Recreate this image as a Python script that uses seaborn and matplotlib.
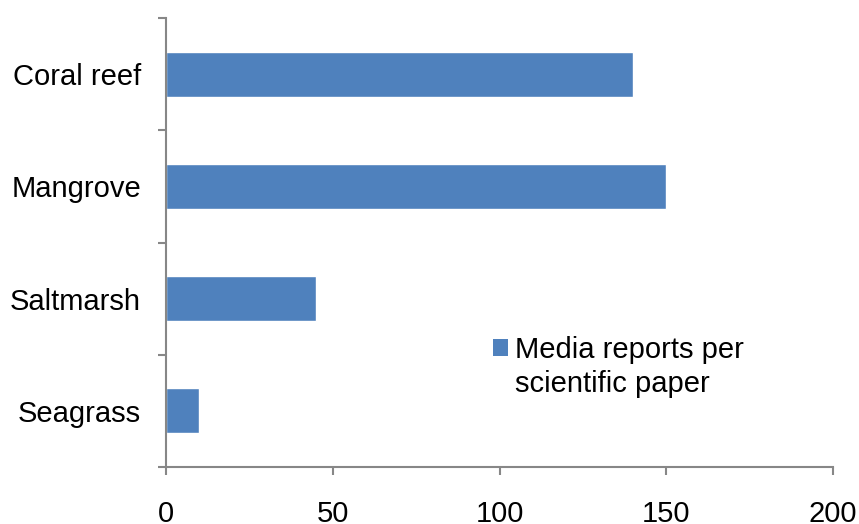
import numpy as np
import pandas as pd
import matplotlib
matplotlib.use('Agg')
import matplotlib.pyplot as plt
import seaborn as sns
from matplotlib.patches import Patch, Rectangle
from matplotlib.legend_handler import HandlerPatch

categories = ['Coral reef', 'Mangrove', 'Saltmarsh', 'Seagrass']
media_reports = [140, 150, 45, 10]
x_ticks = [0, 50, 100, 150, 200]
series_name = 'Media reports per\nscientific paper'

bar_color = '#4F81BD'
axis_color = '#878787'

sns.set_style('white')
plt.rcParams['font.family'] = ['Liberation Sans', 'DejaVu Sans']

df = pd.DataFrame({'Habitat': categories, 'Value': media_reports})

fig = plt.figure(figsize=(8.59, 5.24), dpi=100)
ax = fig.add_axes([166 / 859, 1 - 467 / 524, (833 - 166) / 859, (467 - 18) / 524])

sns.barplot(data=df, x='Value', y='Habitat', order=categories, orient='h',
            color=bar_color, saturation=1, width=0.4, ax=ax)

ax.set_xlim(0, 200)
ax.set_ylim(len(categories) - 0.5, -0.5)
ax.set_xticks(x_ticks)
ax.set_xticklabels([str(t) for t in x_ticks])

# ticks at category boundaries, labels at centers
ax.set_yticks(np.arange(-0.5, len(categories), 1.0))
ax.set_yticklabels([])
ax.set_yticks(np.arange(len(categories)), minor=True)
ax.set_yticklabels(categories, minor=True)

ax.set_xlabel('')
ax.set_ylabel('')

for side in ['top', 'right']:
    ax.spines[side].set_visible(False)
for side in ['left', 'bottom']:
    ax.spines[side].set_color(axis_color)
    ax.spines[side].set_linewidth(1.5)

ax.tick_params(axis='both', which='major', direction='out', length=6, width=1.5,
               color=axis_color, labelsize=21, labelcolor='black')
ax.tick_params(axis='x', which='major', pad=18, bottom=True)
ax.tick_params(axis='y', which='major', left=True)
ax.tick_params(axis='y', which='minor', length=0, pad=18, labelsize=21, labelcolor='black')


# legend square sits next to the first line of the label
def top_square(legend, orig_handle, xdescent, ydescent, width, height, fontsize):
    return Rectangle((-xdescent, -ydescent + 14.5), width, height)


handle = Patch(facecolor=bar_color, edgecolor='none')
leg = fig.legend([handle], [series_name], loc='upper left',
                 bbox_to_anchor=(493 / 859, 1 - 336 / 524), frameon=False,
                 fontsize=21, handlelength=0.52, handleheight=0.52, handletextpad=0.24,
                 borderpad=0, borderaxespad=0, labelspacing=0,
                 handler_map={Patch: HandlerPatch(patch_func=top_square)})
for t in leg.get_texts():
    t.set_color('black')
    t.set_linespacing(1.28)

fig.savefig('out.png', dpi=100)
